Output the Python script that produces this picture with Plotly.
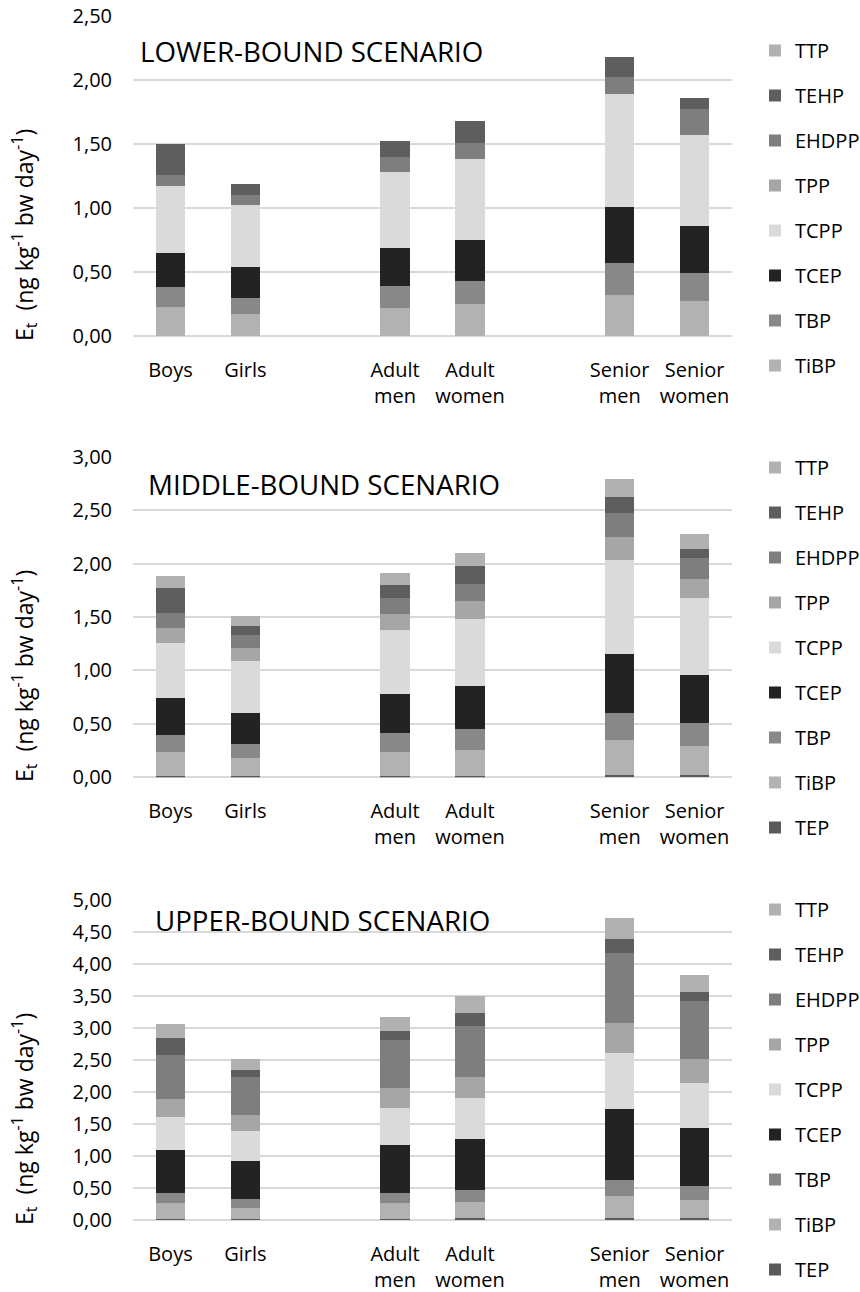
import plotly.graph_objects as go

# Population groups; x positions leave a blank slot between age groups
groups = ["Boys", "Girls", "Adult<br>men", "Adult<br>women", "Senior<br>men", "Senior<br>women"]
x_pos = [0, 1, 3, 4, 6, 7]

# Stacking order, bottom to top
compounds = ["TEP", "TiBP", "TBP", "TCEP", "TCPP", "TPP", "EHDPP", "TEHP", "TTP"]

colors = {
    "TEP": "#5a5a5a",
    "TiBP": "#b2b2b2",
    "TBP": "#888888",
    "TCEP": "#232323",
    "TCPP": "#dadada",
    "TPP": "#a6a6a6",
    "EHDPP": "#7e7e7e",
    "TEHP": "#5e5e5e",
    "TTP": "#b1b1b1",
}

# Exposure Et (ng kg-1 bw day-1) per compound, lower-bound scenario
lower = {
    "TiBP":  [0.23, 0.17, 0.22, 0.25, 0.32, 0.27],
    "TBP":   [0.15, 0.13, 0.17, 0.18, 0.25, 0.22],
    "TCEP":  [0.27, 0.24, 0.30, 0.32, 0.44, 0.37],
    "TCPP":  [0.52, 0.48, 0.59, 0.63, 0.88, 0.71],
    "TPP":   [0.00, 0.00, 0.00, 0.00, 0.00, 0.00],
    "EHDPP": [0.09, 0.08, 0.12, 0.13, 0.13, 0.20],
    "TEHP":  [0.24, 0.09, 0.12, 0.17, 0.16, 0.09],
    "TTP":   [0.00, 0.00, 0.00, 0.00, 0.00, 0.00],
}

# Middle-bound scenario
middle = {
    "TEP":   [0.01, 0.01, 0.01, 0.01, 0.02, 0.02],
    "TiBP":  [0.23, 0.17, 0.23, 0.25, 0.33, 0.27],
    "TBP":   [0.16, 0.13, 0.17, 0.19, 0.25, 0.22],
    "TCEP":  [0.34, 0.29, 0.37, 0.40, 0.55, 0.45],
    "TCPP":  [0.52, 0.49, 0.60, 0.63, 0.88, 0.72],
    "TPP":   [0.14, 0.12, 0.15, 0.17, 0.22, 0.18],
    "EHDPP": [0.14, 0.12, 0.15, 0.16, 0.22, 0.19],
    "TEHP":  [0.23, 0.09, 0.12, 0.17, 0.15, 0.09],
    "TTP":   [0.11, 0.09, 0.11, 0.12, 0.17, 0.14],
}

# Upper-bound scenario
upper = {
    "TEP":   [0.02, 0.02, 0.02, 0.04, 0.04, 0.04],
    "TiBP":  [0.25, 0.18, 0.25, 0.25, 0.34, 0.27],
    "TBP":   [0.15, 0.13, 0.16, 0.18, 0.25, 0.22],
    "TCEP":  [0.68, 0.59, 0.74, 0.80, 1.11, 0.91],
    "TCPP":  [0.52, 0.48, 0.59, 0.64, 0.88, 0.71],
    "TPP":   [0.28, 0.24, 0.31, 0.33, 0.46, 0.37],
    "EHDPP": [0.69, 0.60, 0.75, 0.80, 1.10, 0.91],
    "TEHP":  [0.26, 0.11, 0.13, 0.20, 0.21, 0.13],
    "TTP":   [0.21, 0.17, 0.22, 0.26, 0.33, 0.27],
}

scenarios = [
    ("LOWER-BOUND SCENARIO", lower, 2.5),
    ("MIDDLE-BOUND SCENARIO", middle, 3.0),
    ("UPPER-BOUND SCENARIO", upper, 5.0),
]

W, H = 860, 1292
FONT = "Open Sans"
TXT = "#000000"
GRID = "#d9d9d9"

# Panel geometry in pixels (top, bottom of plot area), title x, axis-title centre y
panels = [
    dict(top=16.0, bottom=336.0, title_x=138, title_y=51, ytitle_y=235, leg_top=31),
    dict(top=456.7, bottom=777.3, title_x=146, title_y=484, ytitle_y=676, leg_top=448),
    dict(top=900.3, bottom=1220.3, title_x=153, title_y=920, ytitle_y=1119, leg_top=890),
]
x_left, x_right = 133, 732

fig = go.Figure()
layout = dict(
    width=W, height=H,
    margin=dict(l=0, r=0, t=0, b=0, autoexpand=False),
    paper_bgcolor="white", plot_bgcolor="white",
    barmode="stack", bargap=0.61,
    separators=", ",
    font=dict(family=FONT, size=20, color=TXT),
    annotations=[],
)

def py(p):
    return 1 - p / H

for i, (title, data, ymax) in enumerate(scenarios):
    n = i + 1
    sfx = "" if n == 1 else str(n)
    geo = panels[i]
    legend_name = "legend" if n == 1 else f"legend{n}"
    for k, comp in enumerate(compounds):
        if comp not in data:
            continue
        fig.add_trace(go.Bar(
            x=x_pos, y=data[comp], name=comp,
            marker=dict(color=colors[comp], line=dict(width=0)),
            xaxis="x" + sfx, yaxis="y" + sfx,
            legend=legend_name, legendgroup=f"{n}-{comp}",
            legendrank=100 - k,
        ))
    layout["xaxis" + sfx] = dict(
        domain=[x_left / W, x_right / W], anchor="y" + sfx,
        range=[-0.5, 7.5], tickmode="array", tickvals=x_pos, ticktext=groups,
        showgrid=False, zeroline=False, showline=False, ticks="",
        ticklabelstandoff=20, tickfont=dict(size=20, family=FONT, color=TXT),
        fixedrange=True,
    )
    layout["yaxis" + sfx] = dict(
        domain=[py(geo["bottom"]), py(geo["top"])], anchor="x" + sfx,
        range=[0, ymax], dtick=0.5, tick0=0, tickformat=".2f",
        showgrid=True, gridcolor=GRID, gridwidth=2,
        zeroline=True, zerolinecolor=GRID, zerolinewidth=2,
        showline=False, ticks="", ticklabelstandoff=20,
        tickfont=dict(size=20, family=FONT, color=TXT),
        fixedrange=True,
    )
    layout[legend_name] = dict(
        x=755 / W, xanchor="left", y=py(geo["leg_top"]), yanchor="top",
        traceorder="grouped", tracegroupgap=16,
        font=dict(size=20, family=FONT, color=TXT),
        bgcolor="rgba(0,0,0,0)", itemclick=False, itemdoubleclick=False,
    )
    layout["annotations"].append(dict(
        text=title, xref="paper", yref="paper",
        x=geo["title_x"] / W, y=py(geo["title_y"]), xanchor="left", yanchor="middle",
        showarrow=False, font=dict(size=27.7, family=FONT, color="#000000"),
    ))
    layout["annotations"].append(dict(
        text="E<sub>t</sub>  (ng kg<sup>-1</sup> bw day<sup>-1</sup>)",
        xref="paper", yref="paper", textangle=-90,
        x=24 / W, y=py(geo["ytitle_y"]), xanchor="center", yanchor="middle",
        showarrow=False, font=dict(size=23, family=FONT, color=TXT),
    ))

fig.update_layout(**layout)
fig.write_html("out.html")
